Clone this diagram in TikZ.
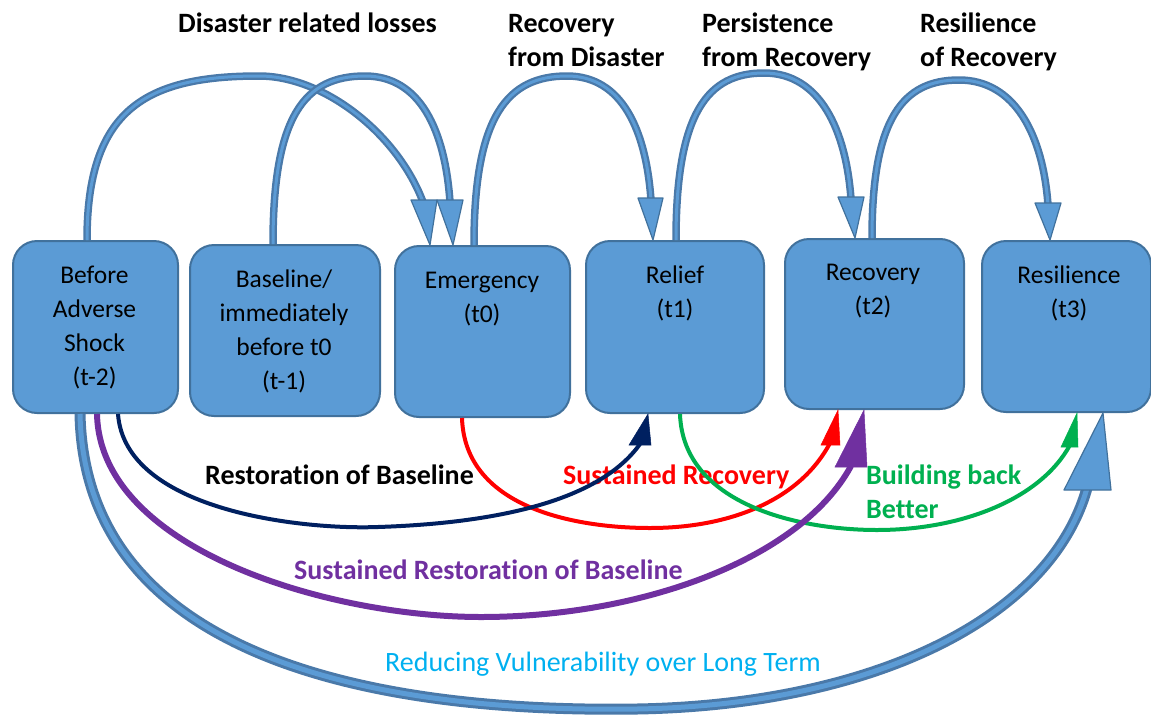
\documentclass[tikz,border=0pt]{standalone}
\usepackage{fontspec}
\setmainfont[Ligatures=NoCommon]{Carlito}
\usetikzlibrary{calc}
\definecolor{boxfill}{HTML}{5B9BD5}
\definecolor{boxline}{HTML}{41719C}
\definecolor{shaftdark}{HTML}{4A79A9}
\definecolor{navyc}{HTML}{002060}
\definecolor{redc}{HTML}{FF0000}
\definecolor{greenc}{HTML}{00B050}
\definecolor{purplec}{HTML}{7030A0}
\definecolor{cyanc}{HTML}{00B0F0}
\begin{document}
\begin{tikzpicture}[x=1pt,y=-1pt,
  stage/.style={draw=boxline, fill=boxfill, line width=2pt, rounded corners=24pt, anchor=north west, inner sep=0pt},
  boxtext/.style={anchor=base, inner sep=0pt, font=\fontsize{25.5}{34}\selectfont},
  lbl/.style={anchor=base west, inner sep=0pt, font=\fontsize{28}{34}\selectfont\bfseries},
  shaftout/.style={draw=shaftdark, line width=7.5pt},
  shaftin/.style={draw=boxfill, line width=3pt},
  head/.style={draw=boxline, fill=boxfill, line width=1.2pt, line join=round},
  bigout/.style={draw=shaftdark, line width=11pt},
  bigin/.style={draw=boxfill, line width=5pt},
  curve/.style={line width=#1}, curve/.default=4pt]
\useasboundingbox (0,0) rectangle (1151,715);

% stages
\node[stage, minimum width=165pt, minimum height=172pt] (b1) at (12,240) {};
\node[stage, minimum width=190pt, minimum height=171pt] (b2) at (189,244) {};
\node[stage, minimum width=175pt, minimum height=171pt] (b3) at (394,245) {};
\node[stage, minimum width=178pt, minimum height=172pt] (b4) at (585,240) {};
\node[stage, minimum width=179pt, minimum height=170pt] (b5) at (784,238) {};
\node[stage, minimum width=169pt, minimum height=171pt] (b6) at (981,240) {};

\node[boxtext] (t1) at (94.5,283) {\begin{tabular}[t]{@{}c@{}}Before\\Adverse\\Shock\\(t-2)\end{tabular}};
\node[boxtext] (t2) at (284,287) {\begin{tabular}[t]{@{}c@{}}Baseline/\\immediately\\before t0\\(t-1)\end{tabular}};
\node[boxtext] (t3) at (482,288) {\begin{tabular}[t]{@{}c@{}}Emergency\\(t0)\end{tabular}};
\node[boxtext] (t4) at (675,283) {\begin{tabular}[t]{@{}c@{}}Relief\\(t1)\end{tabular}};
\node[boxtext] (t5) at (873,280) {\begin{tabular}[t]{@{}c@{}}Recovery\\(t2)\end{tabular}};
\node[boxtext] (t6) at (1069,283) {\begin{tabular}[t]{@{}c@{}}Resilience\\(t3)\end{tabular}};

% top labels
\node[lbl] (l1) at (178,32) {Disaster related losses};
\node[lbl] (l2) at (508,32) {\begin{tabular}[t]{@{}l@{}}Recovery\\from Disaster\end{tabular}};
\node[lbl] (l3) at (702,32) {\begin{tabular}[t]{@{}l@{}}Persistence\\from Recovery\end{tabular}};
\node[lbl] (l4) at (920,32) {\begin{tabular}[t]{@{}l@{}}Resilience\\of Recovery\end{tabular}};

% bottom labels
\node[lbl] (l5) at (205,484) {Restoration of Baseline};
\node[lbl, text=redc] (l6) at (563,484) {Sustained Recovery};
\node[lbl, text=greenc] (l7) at (866,484) {\begin{tabular}[t]{@{}l@{}}Building back\\Better\end{tabular}};
\node[lbl, text=purplec] (l8) at (294,579) {Sustained Restoration of Baseline};
\node[lbl, text=cyanc, font=\fontsize{28}{34}\selectfont] (l9) at (385,671) {Reducing Vulnerability over Long Term};

% arrowhead tip coordinates
\coordinate (h1) at (430,0 |- b3.north);
\coordinate (h2) at (453,0 |- b3.north);
\coordinate (h3) at (653,0 |- b4.north);
\coordinate (h4) at (855,0 |- b5.north);
\coordinate (h5) at (1050,0 |- b6.north);
\coordinate (g1) at (648,0 |- b4.south);
\coordinate (g2) at (838,0 |- b5.south);
\coordinate (g3) at (1077,0 |- b6.south);
\coordinate (g4) at (864,0 |- b5.south);
\coordinate (g5) at (1103,0 |- b6.south);

% top arcs
\foreach \s in {shaftout,shaftin}{
  \draw[\s] (87,0 |- b1.north) .. controls (87,110) and (145,76) .. (259,76)
            .. controls (325,76) and (398,135) .. ($(h1)+(-7,-43)$);
}
\draw[head] ($(h1)+(-19,-45)$) -- ($(h1)+(7,-45)$) -- (h1) -- cycle;
\foreach \s in {shaftout,shaftin}{
  \draw[\s] (273,0 |- b2.north) .. controls (273,115) and (305,76) .. (365,76)
            .. controls (420,76) and (445,130) .. ($(h2)+(-3,-43)$);
}
\draw[head] ($(h2)+(-16,-45)$) -- ($(h2)+(10,-45)$) -- (h2) -- cycle;
\foreach \s in {shaftout,shaftin}{
  \draw[\s] (474,0 |- b3.north) .. controls (474,115) and (508,76) .. (567,76)
            .. controls (622,76) and (646,130) .. ($(h3)+(-2,-40)$);
}
\draw[head] ($(h3)+(-15,-42)$) -- ($(h3)+(10,-42)$) -- (h3) -- cycle;
\foreach \s in {shaftout,shaftin}{
  \draw[\s] (676,0 |- b4.north) .. controls (676,112) and (708,73) .. (764,73)
            .. controls (820,73) and (846,130) .. ($(h4)+(-4,-39)$);
}
\draw[head] ($(h4)+(-17,-41)$) -- ($(h4)+(9,-41)$) -- (h4) -- cycle;
\foreach \s in {shaftout,shaftin}{
  \draw[\s] (872,0 |- b5.north) .. controls (872,118) and (903,80) .. (959,80)
            .. controls (1015,80) and (1043,135) .. ($(h5)+(-2,-35)$);
}
\draw[head] ($(h5)+(-15,-37)$) -- ($(h5)+(11,-37)$) -- (h5) -- cycle;

% bottom: reducing vulnerability
\foreach \s in {bigout,bigin}{
  \draw[\s] (80,0 |- b1.south) .. controls (85,660) and (380,713) .. (637,709)
            .. controls (870,705) and (1050,620) .. ($(g5)+(-16,75)$);
}
\draw[head] ($(g5)+(-39,77)$) -- ($(g5)+(8,77)$) -- (g5) -- cycle;

% red
\draw[redc, curve] (462,0 |- b3.south) .. controls (465,510) and (580,528) .. (650,528)
      .. controls (730,528) and (800,500) .. ($(g2)+(-8,33)$);
\draw[redc, fill=redc, line width=0.5pt] ($(g2)+(-17,35)$) -- ($(g2)+(2,35)$) -- (g2) -- cycle;
% green
\draw[greenc, curve] (680,0 |- b4.south) .. controls (683,505) and (800,530) .. (877,530)
      .. controls (960,530) and (1040,500) .. ($(g3)+(-7,32)$);
\draw[greenc, fill=greenc, line width=0.5pt] ($(g3)+(-16,34)$) -- ($(g3)+(1,34)$) -- (g3) -- cycle;
% navy
\draw[navyc, curve] (118,0 |- b1.south) .. controls (125,510) and (300,530) .. (378,527)
      .. controls (500,523) and (600,500) .. ($(g1)+(-8,30)$);
\draw[navyc, fill=navyc, line width=0.5pt] ($(g1)+(-19,31)$) -- ($(g1)+(3,31)$) -- (g1) -- cycle;
% purple
\draw[purplec, curve=6pt] (97,0 |- b1.south) .. controls (100,550) and (330,617) .. (481,617)
      .. controls (640,617) and (800,560) .. ($(g4)+(-13,56)$);
\draw[purplec, fill=purplec, line width=0.5pt] ($(g4)+(-29,57)$) -- ($(g4)+(3,57)$) -- (g4) -- cycle;
\end{tikzpicture}
\end{document}
